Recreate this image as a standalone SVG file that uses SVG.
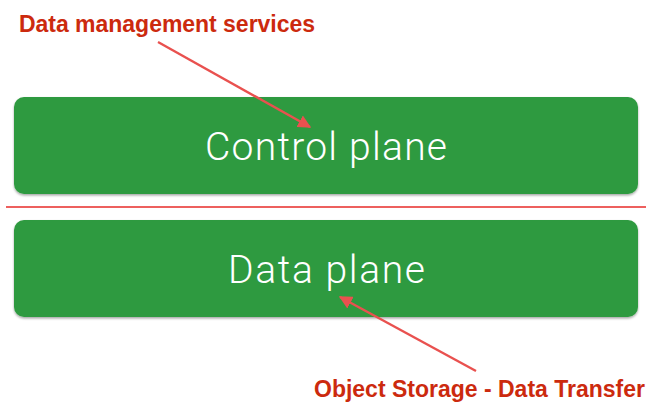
<svg xmlns="http://www.w3.org/2000/svg" width="654" height="403" viewBox="0 0 654 403">
  <defs>
    <filter id="shadow" x="-5%" y="-20%" width="110%" height="150%">
      <feDropShadow dx="0" dy="1.5" stdDeviation="1.2" flood-color="#000" flood-opacity="0.35"/>
    </filter>
    <marker id="head" viewBox="0 0 10 10" refX="9" refY="5" markerWidth="5.5" markerHeight="5.5" orient="auto" markerUnits="strokeWidth">
      <path d="M0,0 L10,5 L0,10 Z" fill="#e9514f"/>
    </marker>
    <style>
      .box { fill: #2f9a41; filter: url(#shadow); }
      .title { font-family: Roboto, "Liberation Sans", sans-serif; font-weight: 300; font-size: 39px; fill: #ffffff; text-anchor: middle; }
      .note { font-family: "Liberation Sans", Arial, sans-serif; font-weight: bold; font-size: 23px; fill: #cc2a0e; }
      .arrow { stroke: #e9514f; stroke-width: 2.4; fill: none; marker-end: url(#head); }
      .divider { stroke: #eb4f4d; stroke-width: 2.2; stroke-opacity: 0.9; }
    </style>
  </defs>

  <rect width="654" height="403" fill="#ffffff"/>

  <g id="control-plane">
    <rect class="box" x="14" y="97" width="624" height="97" rx="10"/>
    <text class="title" x="326" y="160" textLength="242">Control plane</text>
  </g>

  <g id="data-plane">
    <rect class="box" x="14" y="220" width="624" height="97" rx="10"/>
    <text class="title" x="326.5" y="283" textLength="197">Data plane</text>
  </g>

  <line class="divider" x1="6" y1="207" x2="646" y2="207"/>

  <g id="label-data-management">
    <text class="note" x="19" y="32" textLength="296">Data management services</text>
  </g>

  <g id="label-object-storage">
    <text class="note" x="314" y="397" textLength="331">Object Storage - Data Transfer</text>
  </g>

  <g id="connectors">
    <line class="arrow" x1="158" y1="42" x2="310" y2="127"/>
    <line class="arrow" x1="476" y1="371" x2="340" y2="297"/>
  </g>
</svg>
